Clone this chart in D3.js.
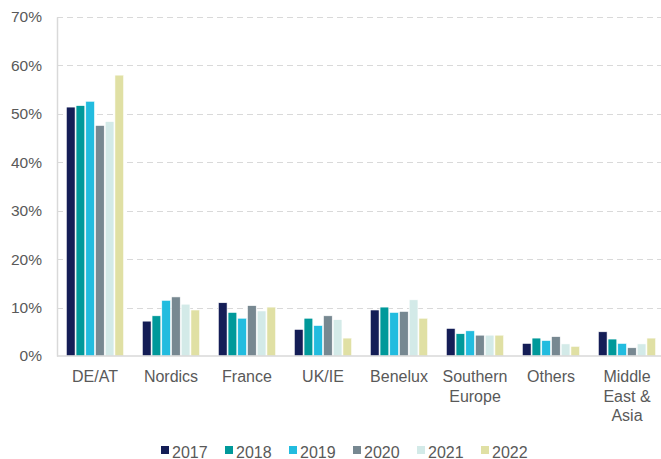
<!DOCTYPE html>
<html>
<head>
<meta charset="utf-8">
<script src="https://cdn.jsdelivr.net/npm/d3@7"></script>
<style>
  body { margin: 0; background: #fff; }
  svg text { font-family: "Liberation Sans", Arial, sans-serif; fill: #595959; }
</style>
</head>
<body>
<svg id="chart"></svg>
<script>
const regions = ['DE/AT', 'Nordics', 'France', 'UK/IE', 'Benelux', 'Southern Europe', 'Others', 'Middle East & Asia'];
const regionLines = [['DE/AT'], ['Nordics'], ['France'], ['UK/IE'], ['Benelux'], ['Southern', 'Europe'], ['Others'], ['Middle', 'East &', 'Asia']];
const years = ['2017', '2018', '2019', '2020', '2021', '2022'];
const colors = ['#141d56', '#00999a', '#22bcdf', '#778891', '#d3eae8', '#e0e0a4'];

// share per region, one array per year (%)
const v2017 = [51.4, 7.2, 11.0, 5.5, 9.5, 5.7, 2.6, 5.0];
const v2018 = [51.7, 8.3, 9.0, 7.8, 10.1, 4.6, 3.7, 3.5];
const v2019 = [52.6, 11.5, 7.8, 6.3, 9.0, 5.2, 3.2, 2.6];
const v2020 = [47.6, 12.2, 10.4, 8.3, 9.2, 4.3, 4.0, 1.7];
const v2021 = [48.4, 10.7, 9.3, 7.5, 11.6, 4.3, 2.5, 2.5];
const v2022 = [58.0, 9.5, 10.1, 3.7, 7.8, 4.3, 2.0, 3.7];
const series = [v2017, v2018, v2019, v2020, v2021, v2022];

const yTicks = [0, 10, 20, 30, 40, 50, 60, 70];

const width = 661;
const height = 459;
const plotLeft = 57;
const plotTop = 17;
const plotBottom = 356;

const svg = d3.select('#chart')
  .attr('width', width)
  .attr('height', height);

const x0 = d3.scaleBand()
  .domain(regions)
  .range([plotLeft, 665])
  .paddingInner(0.22)
  .paddingOuter(0.11);

const x1 = d3.scaleBand()
  .domain(years)
  .range([0, x0.bandwidth()])
  .padding(0.1);

const y = d3.scaleLinear()
  .domain([0, 70])
  .range([plotBottom, plotTop]);

// Gridlines
svg.append('g')
  .selectAll('line')
  .data(yTicks.slice(1))
  .enter()
  .append('line')
  .attr('x1', plotLeft)
  .attr('x2', width)
  .attr('y1', (d) => Math.round(y(d)) + 0.5)
  .attr('y2', (d) => Math.round(y(d)) + 0.5)
  .attr('stroke', '#d9d9d9')
  .attr('stroke-width', 1.2)
  .attr('stroke-dasharray', '6,4');

// Left axis
const yAxis = svg.append('g')
  .attr('transform', `translate(${plotLeft}, 0)`)
  .call(d3.axisLeft(y).tickValues(yTicks).tickFormat((d) => d + '%').tickSize(0).tickPadding(15));
yAxis.select('.domain').attr('stroke', '#d9d9d9').attr('stroke-width', 1.5);
yAxis.selectAll('text').style('font-size', '15.5px').attr('fill', '#595959');

// Bars
const groups = svg.append('g')
  .selectAll('g')
  .data(regions)
  .enter()
  .append('g')
  .attr('transform', (d) => `translate(${x0(d)}, 0)`);

groups.selectAll('rect')
  .data((d, i) => years.map((yr, j) => ({year: yr, value: series[j][i], color: colors[j]})))
  .enter()
  .append('rect')
  .attr('x', (d) => x1(d.year))
  .attr('y', (d) => y(d.value))
  .attr('width', x1.bandwidth())
  .attr('height', (d) => plotBottom - y(d.value))
  .attr('fill', (d) => d.color)
  .attr('stroke', '#fff')
  .attr('stroke-width', 0.6);

// Bottom axis line
svg.append('line')
  .attr('x1', plotLeft)
  .attr('x2', width)
  .attr('y1', plotBottom)
  .attr('y2', plotBottom)
  .attr('stroke', '#d9d9d9')
  .attr('stroke-width', 1.5);

// Category labels
const labels = svg.append('g')
  .selectAll('text')
  .data(regions)
  .enter()
  .append('text')
  .attr('text-anchor', 'middle')
  .attr('x', (d) => x0(d) + x0.bandwidth() / 2)
  .attr('y', 382)
  .style('font-size', '16px');

labels.selectAll('tspan')
  .data((d, i) => regionLines[i])
  .enter()
  .append('tspan')
  .attr('x', function () { return this.parentNode.getAttribute('x'); })
  .attr('dy', (d, i) => i === 0 ? 0 : 19.5)
  .text((d) => d);

// Legend
const legend = svg.append('g')
  .selectAll('g')
  .data(years)
  .enter()
  .append('g')
  .attr('transform', (d, i) => `translate(${161 + i * 64}, 446)`);

legend.append('rect')
  .attr('width', 8)
  .attr('height', 8)
  .attr('fill', (d, i) => colors[i]);

legend.append('text')
  .attr('x', 11)
  .attr('y', 11.5)
  .style('font-size', '16px')
  .text((d) => d);
</script>
</body>
</html>
